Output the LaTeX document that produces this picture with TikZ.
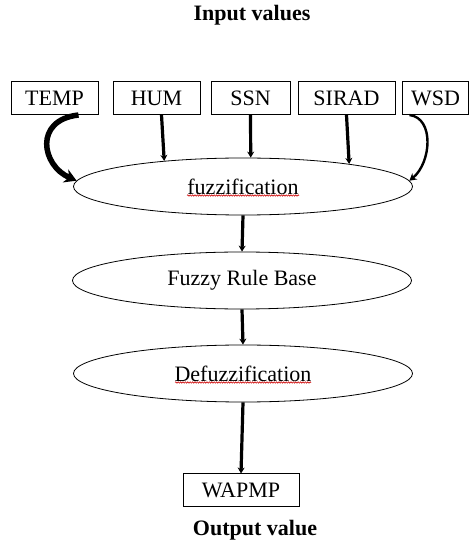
\documentclass[tikz,border=0pt]{standalone}
\usepackage{fontspec}
\setmainfont{Liberation Serif}
\usetikzlibrary{arrows,arrows.meta,shapes.geometric,decorations.pathmorphing}
\tikzstyle{inbox} = [draw, line width=1pt, minimum height=33pt, inner sep=0pt]
\tikzstyle{stage} = [draw, ellipse, line width=0.8pt, minimum width=339pt, minimum height=57pt, inner sep=0pt]
\tikzstyle{heading} = [font=\fontsize{22}{26}\selectfont\bfseries]
\tikzstyle{arrow} = [line width=3.2pt, -{Stealth[length=6pt,width=7pt]}]
\tikzstyle{bigcurve} = [line width=5.5pt, -{Stealth[length=12pt,width=14pt]}]
\tikzstyle{thincurve} = [line width=2.4pt, -{Stealth[length=7pt,width=8pt]}]
\tikzstyle{spelling} = [red!80!black, line width=0.6pt, decorate,
    decoration={snake,amplitude=0.7pt,segment length=2.4pt}]

\begin{document}
\begin{tikzpicture}[x=1pt,y=1pt,every node/.style={font=\fontsize{22}{26}\selectfont}]
    \useasboundingbox (0,0) rectangle (475,542);
    \node[heading] (intitle) at (252,527) {Input values};
    \node[inbox,minimum width=87pt] (temp) at (54.5,444) {TEMP};
    \node[inbox,minimum width=87pt] (hum) at (156.5,444) {HUM};
    \node[inbox,minimum width=79pt] (ssn) at (250.5,444) {SSN};
    \node[inbox,minimum width=97pt] (sirad) at (346.5,444) {SIRAD};
    \node[inbox,minimum width=66pt] (wsd) at (435.5,444) {WSD};
    \node[stage] (fuzz) at (243,355.5) {fuzzification};
    \node[stage] (rule) at (242,261.5) {Fuzzy Rule Base};
    \node[stage] (defuzz) at (243,168.5) {Defuzzification};
    \node[inbox,minimum width=116pt] (wapmp) at (241,51.5) {WAPMP};
    \node[heading] (outtitle) at (255,12) {Output value};
    \draw[bigcurve] ([xshift=24pt]temp.south) .. controls +(-45,-5) and +(-35,15) .. (fuzz.178);
    \draw[arrow] ([xshift=5pt]hum.south) -- (fuzz.162.2);
    \draw[arrow] (ssn.south) -- (fuzz.75);
    \draw[arrow] (sirad.south) -- (fuzz.12.3);
    \draw[thincurve] ([xshift=-26pt]wsd.south) .. controls +(25,-3) and +(22,18) .. (fuzz.2);
    \draw[arrow] (fuzz.south) -- (rule.north);
    \draw[arrow] (rule.south) -- (defuzz.north);
    \draw[arrow] (defuzz.south) -- (wapmp.north);
    \draw[spelling] ([shift={(-56pt,-9pt)}]fuzz.center) -- ([shift={(56pt,-9pt)}]fuzz.center);
    \draw[spelling] ([shift={(-68pt,-9pt)}]defuzz.center) -- ([shift={(68pt,-9pt)}]defuzz.center);
\end{tikzpicture}
\end{document}
